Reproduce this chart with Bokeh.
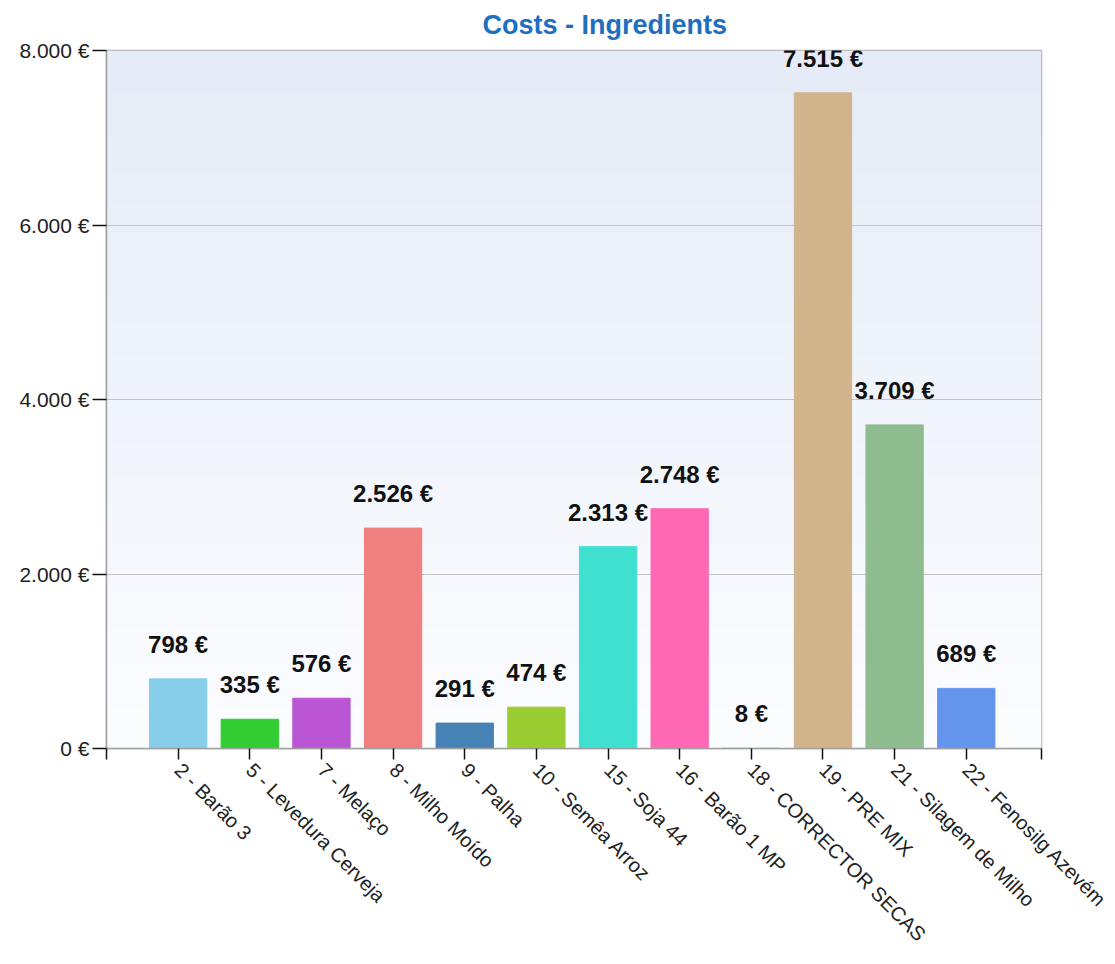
import numpy as np
from bokeh.plotting import figure
from bokeh.models import ColumnDataSource, LabelSet, Range1d, FixedTicker
from bokeh.core.properties import value
from bokeh.embed import file_html
from bokeh.resources import INLINE

# ---- data ----
title_text = "Costs - Ingredients"
categories = ["2 - Barão 3", "5 - Levedura Cerveja", "7 - Melaço", "8 - Milho Moído",
              "9 - Palha", "10 - Semêa Arroz", "15 - Soja 44", "16 - Barão 1 MP",
              "18 - CORRECTOR SECAS", "19 - PRE MIX", "21 - Silagem de Milho",
              "22 - Fenosilg Azevém"]
costs = [798, 335, 576, 2526, 291, 474, 2313, 2748, 8, 7515, 3709, 689]
colors = ["#87CEEB", "#32CD32", "#BA55D3", "#F08080", "#4682B4", "#9ACD32",
          "#40E0D0", "#FF69B4", "#F0E68C", "#D2B48C", "#8FBC8F", "#6495ED"]
y_ticks = [0, 2000, 4000, 6000, 8000]

def fmt(v):
    return f"{v:,}".replace(",", ".") + " €"

xs = list(range(1, len(categories) + 1))
src = ColumnDataSource(dict(x=xs, top=costs, color=colors, label=[fmt(v) for v in costs]))

X_END = len(categories) + 1.05
Y_END = y_ticks[-1]
p = figure(frame_width=935, frame_height=698, output_backend="svg", toolbar_location=None,
           x_range=Range1d(0, X_END), y_range=Range1d(0, Y_END),
           min_border_left=106, min_border_top=50, min_border_bottom=150, min_border_right=74)

# background gradient
n = 200
t = np.linspace(0, 1, n)[:, None]  # bottom -> top
top_c = np.array([229, 236, 247])
bot_c = np.array([252, 253, 255])
rgb = (bot_c + (top_c - bot_c) * t).astype(np.uint32)
img = (255 << 24) | (rgb[:, 2] << 16) | (rgb[:, 1] << 8) | rgb[:, 0]
img = img.reshape(n, 1)
bg = p.image_rgba(image=[img], x=0, y=0, dw=X_END, dh=Y_END)
bg.level = "image"

p.vbar(x="x", top="top", width=0.8, color="color", source=src)

labels = LabelSet(x="x", y="top", text="label", source=src, text_align="center",
                  text_baseline="alphabetic", y_offset=26, text_font=value("Liberation Sans"),
                  text_font_style="bold", text_font_size="24px", text_color="#111111")
p.add_layout(labels)

# title
p.title.text = title_text
p.title.align = "left"
p.title.offset = 376
p.title.vertical_align = "top"
p.title.text_color = "#1f6fc0"
p.title.text_font = "Liberation Sans"
p.title.text_font_size = "27px"
p.title.text_font_style = "bold"
p.title.standoff = 17

# axes
p.xaxis.ticker = FixedTicker(ticks=[0] + xs + [X_END])
p.xaxis.major_label_overrides = {**{0: "", X_END: ""}, **{x: c for x, c in zip(xs, categories)}}
p.xaxis.major_label_orientation = -np.pi / 4
p.yaxis.ticker = FixedTicker(ticks=y_ticks)
p.yaxis.major_label_overrides = {v: fmt(v) for v in y_ticks}

for ax in (p.xaxis, p.yaxis):
    ax.axis_line_color = "#a0a0a0"
    ax.axis_line_width = 1.5
    ax.major_tick_line_color = "#111111"
    ax.major_tick_line_width = 1.5
    ax.major_tick_in = 0
    ax.minor_tick_line_color = None
    ax.major_label_text_font = "Liberation Sans"
    ax.major_label_text_color = "#222222"
p.yaxis.major_label_text_font_size = "21px"
p.xaxis.major_label_text_font_size = "20px"
p.yaxis.major_tick_out = 14
p.yaxis.major_label_standoff = 3
p.xaxis.major_tick_out = 11
p.xaxis.major_label_standoff = 7

p.xgrid.grid_line_color = None
p.ygrid.grid_line_color = "#c4c4c4"
p.ygrid.grid_line_width = 1
p.outline_line_color = "#b0b0b0"
p.outline_line_width = 1.5
p.background_fill_color = "white"
p.border_fill_color = "white"

open("out.html", "w").write(file_html(p, INLINE))
